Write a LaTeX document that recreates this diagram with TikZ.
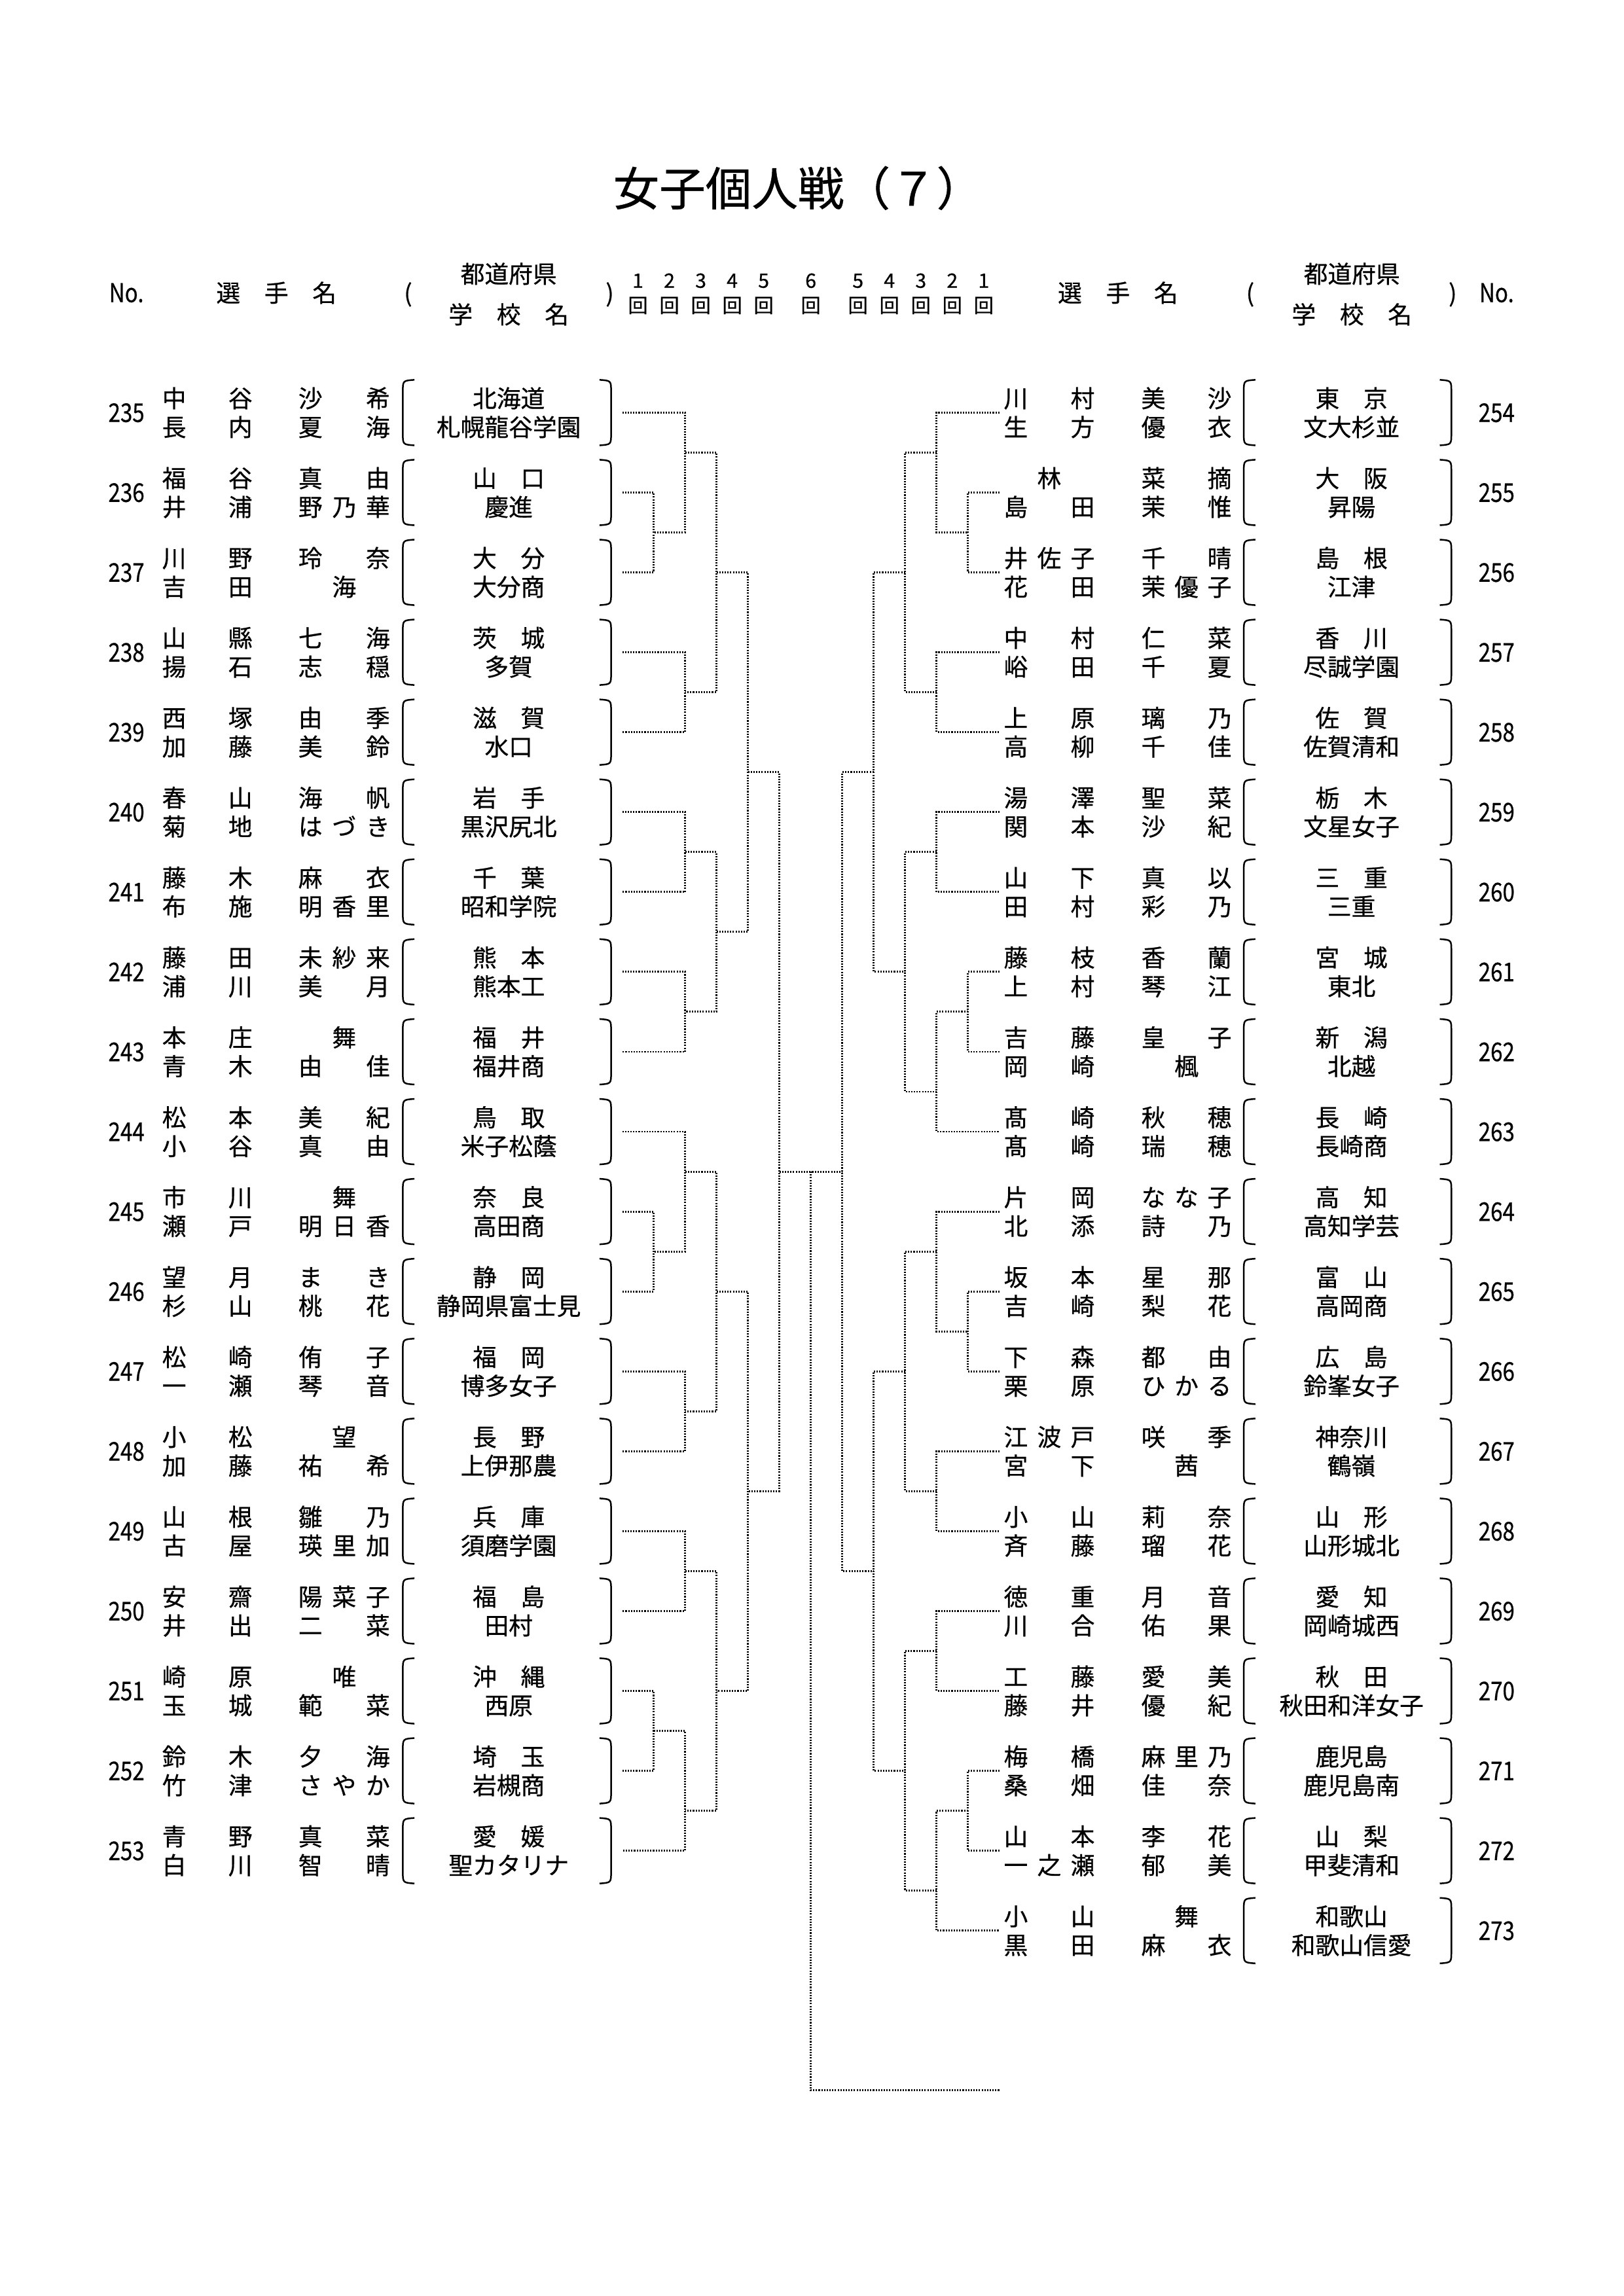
\documentclass[tikz,border=0pt]{standalone}
\usepackage{fontspec}
\setmainfont{Noto Sans CJK JP}[FakeBold=0.6]
\usepackage{graphicx}

\tikzset{
  bline/.style={line width=0.7pt, dash pattern=on 0.5pt off 0.5pt},
  paren/.style={line width=0.6pt},
  namechr/.style={inner sep=0pt, font=\fontsize{8.85}{10}\selectfont, text height=7.8pt, text depth=1.05pt},
  numtxt/.style={inner sep=0pt, font=\fontsize{9.5}{10}\selectfont, text height=6.9pt, text depth=0pt},
  roundtxt/.style={inner sep=0pt, font=\fontsize{7.3}{8}\selectfont, text height=6.4pt, text depth=0.9pt},
}

\newcommand\colmid{10.487}
\newcommand\colstep{0.4066}
\newcommand\xL[1]{\colmid-(6-#1)*\colstep}
\newcommand\xR[1]{\colmid+(6-#1)*\colstep}
\newcommand\bout[5]{%
  \coordinate (#1) at ({#2},#3);
  \draw[bline] (#4) -- (#4 -| #1) -- (#5 -| #1) -- (#5);
}

\makeatletter
\def\sp@loop{\@tfor\sp@c:=}
\newcommand\spread[5]{%
  \edef\sp@list{#4}%
  \def\sp@n{0}%
  \expandafter\sp@loop\sp@list\do{\pgfmathtruncatemacro\sp@n{\sp@n+1}}%
  \def\sp@i{0}%
  \expandafter\sp@loop\sp@list\do{%
    \ifnum\sp@n=1
      \pgfmathsetmacro\sp@x{(#1+#2)/2}%
    \else
      \pgfmathsetmacro\sp@x{#1+(#2-#1)*\sp@i/(\sp@n-1)}%
    \fi
    \node[namechr] (#5\sp@i) at (\sp@x,#3) {\sp@c};
    \pgfmathtruncatemacro\sp@i{\sp@i+1}}%
}
\makeatother

\begin{document}
\begin{tikzpicture}[x=1cm, y=-1cm]
  \useasboundingbox (0,0) rectangle (21,29.7);
  \node[inner sep=0pt, font=\fontsize{17}{19}\selectfont, text height=15pt, text depth=2pt] (title) at (10.32,2.431) {女子個人戦（７）};

  % header
  \node[numtxt] (hnoL) at (1.635,3.787) {\scalebox{0.84}[1]{No.}};
  \node[namechr] (hnameL) at (3.575,3.787) {選　手　名};
  \node[namechr] (hpoL) at (5.278,3.787) {(};
  \node[namechr] (hprefL) at (6.58,3.541) {都道府県};
  \node[namechr] (hschL) at (6.58,4.066) {学　校　名};
  \node[namechr] (hpcL) at (7.887,3.787) {)};
  \node[namechr] (hnameR) at (14.46,3.787) {選　手　名};
  \node[namechr] (hpoR) at (16.17,3.787) {(};
  \node[namechr] (hprefR) at (17.485,3.541) {都道府県};
  \node[namechr] (hschR) at (17.485,4.066) {学　校　名};
  \node[namechr] (hpcR) at (18.79,3.787) {)};
  \node[numtxt] (hnoR) at (19.357,3.787) {\scalebox{0.84}[1]{No.}};
  \foreach \k in {1,...,5} {
    \node[roundtxt] (rdL\k) at ({\xL{\k}-0.5*\colstep},3.626) {\k};
    \node[roundtxt] (kaiL\k) at ({\xL{\k}-0.5*\colstep},3.948) {回};
    \node[roundtxt] (rdR\k) at ({\xR{\k}+0.5*\colstep},3.626) {\k};
    \node[roundtxt] (kaiR\k) at ({\xR{\k}+0.5*\colstep},3.948) {回};
  }
  \node[roundtxt] (rd6) at (\colmid,3.626) {6};
  \node[roundtxt] (kai6) at (\colmid,3.948) {回};

  \begin{scope}[shift={(0,5.337)}, y=-1.0335cm]
    % left block
    \foreach \pno/\fa/\ga/\fb/\gb/\pref/\school [count=\rw from 0] in {
      235/中谷/沙希/長内/夏海/北海道/札幌龍谷学園,
      236/福谷/真由/井浦/野乃華/山　口/慶進,
      237/川野/玲奈/吉田/海/大　分/大分商,
      238/山縣/七海/揚石/志穏/茨　城/多賀,
      239/西塚/由季/加藤/美鈴/滋　賀/水口,
      240/春山/海帆/菊地/はづき/岩　手/黒沢尻北,
      241/藤木/麻衣/布施/明香里/千　葉/昭和学院,
      242/藤田/未紗来/浦川/美月/熊　本/熊本工,
      243/本庄/舞/青木/由佳/福　井/福井商,
      244/松本/美紀/小谷/真由/鳥　取/米子松蔭,
      245/市川/舞/瀬戸/明日香/奈　良/高田商,
      246/望月/まき/杉山/桃花/静　岡/静岡県富士見,
      247/松崎/侑子/一瀬/琴音/福　岡/博多女子,
      248/小松/望/加藤/祐希/長　野/上伊那農,
      249/山根/雛乃/古屋/瑛里加/兵　庫/須磨学園,
      250/安齋/陽菜子/井出/二菜/福　島/田村,
      251/崎原/唯/玉城/範菜/沖　縄/西原,
      252/鈴木/夕海/竹津/さやか/埼　玉/岩槻商,
      253/青野/真菜/白川/智晴/愛　媛/聖カタリナ} {
      \coordinate (p\pno) at ({\xL{0}},\rw);
      \node[numtxt] (n\pno) at (1.635,\rw) {\scalebox{0.84}[1]{\pno}};
      \spread{2.253}{3.109}{\rw-0.18}{\fa}{fa\pno-}
      \spread{4.015}{4.888}{\rw-0.18}{\ga}{ga\pno-}
      \spread{2.253}{3.109}{\rw+0.18}{\fb}{fb\pno-}
      \spread{4.015}{4.888}{\rw+0.18}{\gb}{gb\pno-}
      \node[namechr] (pf\pno) at (6.58,\rw-0.18) {\pref};
      \node[namechr] (sc\pno) at (6.58,\rw+0.18) {\school};
      \draw[paren] (5.36,\rw-0.41) .. controls (5.21,\rw-0.40) .. (5.21,\rw-0.26) -- (5.21,\rw+0.26) .. controls (5.21,\rw+0.40) .. (5.36,\rw+0.41);
      \draw[paren] (7.754,\rw-0.41) .. controls (7.904,\rw-0.40) .. (7.904,\rw-0.26) -- (7.904,\rw+0.26) .. controls (7.904,\rw+0.40) .. (7.754,\rw+0.41);
    }
    % right block
    \foreach \pno/\fa/\ga/\fb/\gb/\pref/\school [count=\rw from 0] in {
      254/川村/美沙/生方/優衣/東　京/文大杉並,
      255/林/菜摘/島田/茉惟/大　阪/昇陽,
      256/井佐子/千晴/花田/茉優子/島　根/江津,
      257/中村/仁菜/峪田/千夏/香　川/尽誠学園,
      258/上原/璃乃/高柳/千佳/佐　賀/佐賀清和,
      259/湯澤/聖菜/関本/沙紀/栃　木/文星女子,
      260/山下/真以/田村/彩乃/三　重/三重,
      261/藤枝/香蘭/上村/琴江/宮　城/東北,
      262/吉藤/皇子/岡崎/楓/新　潟/北越,
      263/髙崎/秋穂/髙崎/瑞穂/長　崎/長崎商,
      264/片岡/なな子/北添/詩乃/高　知/高知学芸,
      265/坂本/星那/吉崎/梨花/富　山/高岡商,
      266/下森/都由/栗原/ひかる/広　島/鈴峯女子,
      267/江波戸/咲季/宮下/茜/神奈川/鶴嶺,
      268/小山/莉奈/斉藤/瑠花/山　形/山形城北,
      269/徳重/月音/川合/佑果/愛　知/岡崎城西,
      270/工藤/愛美/藤井/優紀/秋　田/秋田和洋女子,
      271/梅橋/麻里乃/桑畑/佳奈/鹿児島/鹿児島南,
      272/山本/李花/一之瀬/郁美/山　梨/甲斐清和,
      273/小山/舞/黒田/麻衣/和歌山/和歌山信愛} {
      \coordinate (p\pno) at ({\xR{0}},\rw);
      \node[numtxt] (n\pno) at (19.357,\rw) {\scalebox{0.84}[1]{\pno}};
      \spread{13.139}{14.003}{\rw-0.18}{\fa}{fa\pno-}
      \spread{14.918}{15.773}{\rw-0.18}{\ga}{ga\pno-}
      \spread{13.139}{14.003}{\rw+0.18}{\fb}{fb\pno-}
      \spread{14.918}{15.773}{\rw+0.18}{\gb}{gb\pno-}
      \node[namechr] (pf\pno) at (17.48,\rw-0.18) {\pref};
      \node[namechr] (sc\pno) at (17.48,\rw+0.18) {\school};
      \draw[paren] (16.237,\rw-0.41) .. controls (16.087,\rw-0.40) .. (16.087,\rw-0.26) -- (16.087,\rw+0.26) .. controls (16.087,\rw+0.40) .. (16.237,\rw+0.41);
      \draw[paren] (18.622,\rw-0.41) .. controls (18.772,\rw-0.40) .. (18.772,\rw-0.26) -- (18.772,\rw+0.26) .. controls (18.772,\rw+0.40) .. (18.622,\rw+0.41);
    }

    % left bracket
    \bout{la1}{\xL{1}}{1.5}{p236}{p237}
    \bout{la2}{\xL{2}}{0.5}{p235}{la1}
    \bout{la3}{\xL{2}}{3.5}{p238}{p239}
    \bout{la4}{\xL{3}}{2}{la2}{la3}
    \bout{la5}{\xL{2}}{5.5}{p240}{p241}
    \bout{la6}{\xL{2}}{7.5}{p242}{p243}
    \bout{la7}{\xL{3}}{6.5}{la5}{la6}
    \bout{la8}{\xL{4}}{4.5}{la4}{la7}
    \bout{lb1}{\xL{1}}{10.5}{p245}{p246}
    \bout{lb2}{\xL{2}}{9.5}{p244}{lb1}
    \bout{lb3}{\xL{2}}{12.5}{p247}{p248}
    \bout{lb4}{\xL{3}}{11}{lb2}{lb3}
    \bout{lb5}{\xL{2}}{14.5}{p249}{p250}
    \bout{lb6}{\xL{1}}{16.5}{p251}{p252}
    \bout{lb7}{\xL{2}}{17.5}{lb6}{p253}
    \bout{lb8}{\xL{3}}{16}{lb5}{lb7}
    \bout{lb9}{\xL{4}}{13.5}{lb4}{lb8}
    \bout{lsemi}{\xL{5}}{9.5}{la8}{lb9}
    % right bracket
    \bout{ra1}{\xR{1}}{1.5}{p255}{p256}
    \bout{ra2}{\xR{2}}{0.5}{p254}{ra1}
    \bout{ra3}{\xR{2}}{3.5}{p257}{p258}
    \bout{ra4}{\xR{3}}{2}{ra2}{ra3}
    \bout{ra5}{\xR{2}}{5.5}{p259}{p260}
    \bout{ra6}{\xR{1}}{7.5}{p261}{p262}
    \bout{ra7}{\xR{2}}{8.5}{ra6}{p263}
    \bout{ra8}{\xR{3}}{7}{ra5}{ra7}
    \bout{ra9}{\xR{4}}{4.5}{ra4}{ra8}
    \bout{rb1}{\xR{1}}{11.5}{p265}{p266}
    \bout{rb2}{\xR{2}}{10.5}{p264}{rb1}
    \bout{rb3}{\xR{2}}{13.5}{p267}{p268}
    \bout{rb4}{\xR{3}}{12}{rb2}{rb3}
    \bout{rb5}{\xR{2}}{15.5}{p269}{p270}
    \bout{rb6}{\xR{1}}{17.5}{p271}{p272}
    \bout{rb7}{\xR{2}}{18.5}{rb6}{p273}
    \bout{rb8}{\xR{3}}{17}{rb5}{rb7}
    \bout{rb9}{\xR{4}}{14.5}{rb4}{rb8}
    \bout{rsemi}{\xR{5}}{9.5}{ra9}{rb9}
    % final
    \coordinate (fin) at (\colmid,21);
    \coordinate (champ) at ({\xR{0}},21);
    \draw[bline] (lsemi) -- (rsemi);
    \draw[bline] (lsemi -| fin) -- (fin) -- (champ);
  \end{scope}
\end{tikzpicture}
\end{document}
